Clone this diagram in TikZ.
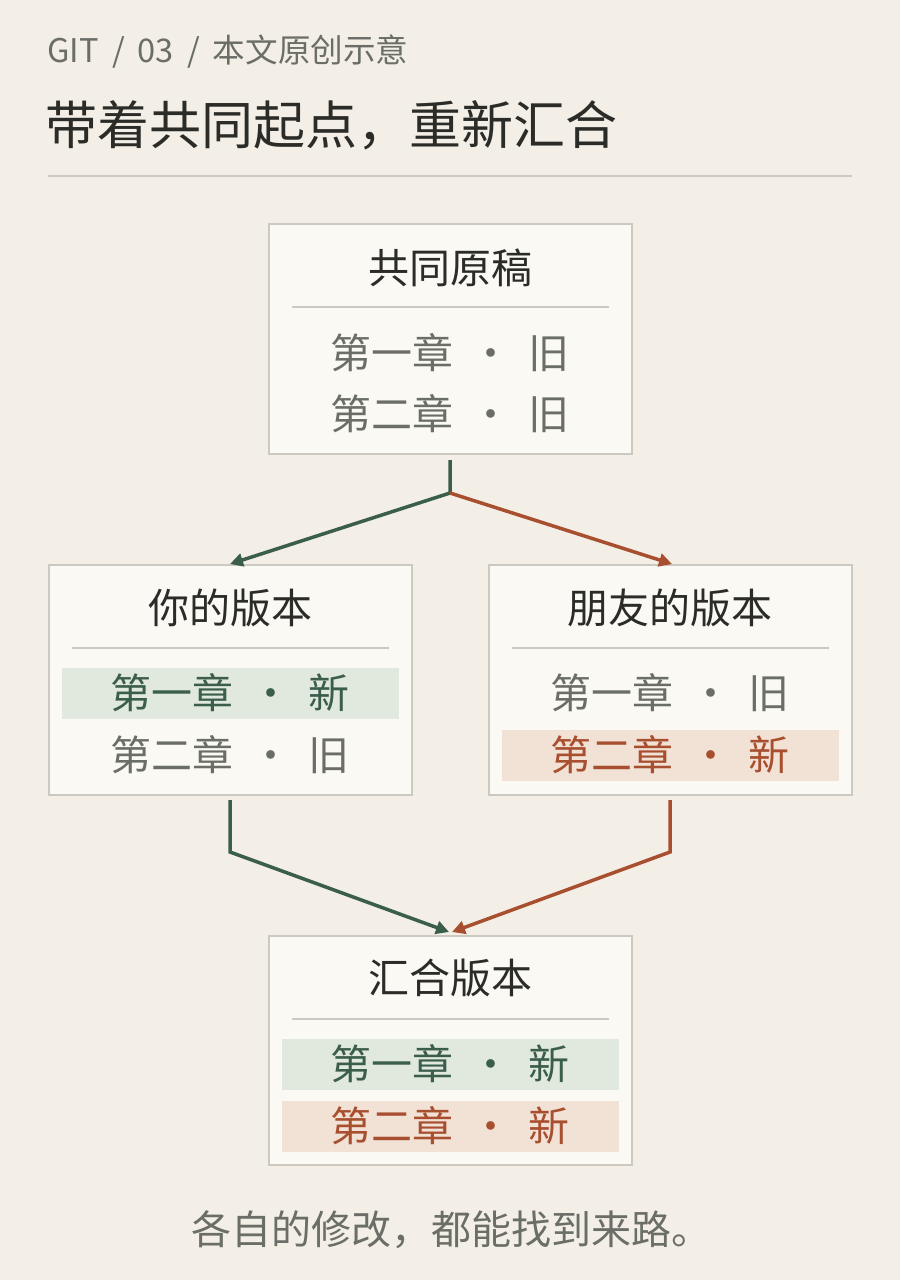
\documentclass[tikz,border=0pt]{standalone}
\usepackage{fontspec}
\setmainfont{Noto Sans CJK SC}
\usetikzlibrary{arrows.meta}
\definecolor{bg}{HTML}{F3EFE6}
\definecolor{boxf}{HTML}{FAF9F4}
\definecolor{boxd}{HTML}{CCCAC0}
\definecolor{ink}{HTML}{2B2B28}
\definecolor{gry}{HTML}{6B6E66}
\definecolor{grn}{HTML}{3B5E4B}
\definecolor{grnf}{HTML}{E1E9DE}
\definecolor{org}{HTML}{A84F2F}
\definecolor{orgf}{HTML}{F2E1D5}
\newcommand{\rowtxt}[2]{#1\hspace{0.42em}·\hspace{0.42em}#2}
\begin{document}
\begin{tikzpicture}[x=1pt,y=-1pt,
  box/.style={draw=boxd,fill=boxf,line width=1.8pt},
  ttl/.style={font=\fontsize{41}{46}\selectfont,text=ink,anchor=center},
  row/.style={font=\fontsize{41}{46}\selectfont,anchor=center},
  sep/.style={draw=boxd,line width=1.6pt},
  garr/.style={draw=grn,line width=3.5pt,-{Triangle[length=13pt,width=13pt]}},
  oarr/.style={draw=org,line width=3.5pt,-{Triangle[length=13pt,width=13pt]}}]
\fill[bg] (0,0) rectangle (900,1280);
\useasboundingbox (0,0) rectangle (900,1280);
\node[anchor=west,text=gry,font=\fontsize{32.6}{36}\selectfont] (hdr) at (44,52) {GIT\hspace{0.4em}/\hspace{0.4em}03\hspace{0.4em}/\hspace{0.4em}本文原创示意};
\node[anchor=west,text=ink,font=\fontsize{52}{58}\selectfont] (title) at (42,125) {带着共同起点，重新汇合};
\draw[sep] (48,176) -- (852,176);
% top box
\path[box] (269,224) rectangle (632,454);
\node[ttl] (t1) at (450,268) {共同原稿};
\draw[sep] (292,307) -- (609,307);
\node[row,text=gry] (t1a) at (450,353) {\rowtxt{第一章}{旧}};
\node[row,text=gry] (t1b) at (450,414) {\rowtxt{第二章}{旧}};
% left box
\path[box] (49,565) rectangle (412,795);
\node[ttl] (t2) at (230,608) {你的版本};
\draw[sep] (72,648) -- (389,648);
\fill[grnf] (62,668) rectangle (399,719);
\node[row,text=grn] (t2a) at (230,693) {\rowtxt{第一章}{新}};
\node[row,text=gry] (t2b) at (230,755) {\rowtxt{第二章}{旧}};
% right box
\path[box] (489,565) rectangle (852,795);
\node[ttl] (t3) at (670,608) {朋友的版本};
\draw[sep] (512,648) -- (829,648);
\node[row,text=gry] (t3a) at (670,693) {\rowtxt{第一章}{旧}};
\fill[orgf] (502,730) rectangle (839,781);
\node[row,text=org] (t3b) at (670,755) {\rowtxt{第二章}{新}};
% bottom box
\path[box] (269,936) rectangle (632,1165);
\node[ttl] (t4) at (450,978) {汇合版本};
\draw[sep] (292,1019) -- (609,1019);
\fill[grnf] (282,1039) rectangle (619,1090);
\node[row,text=grn] (t4a) at (450,1064) {\rowtxt{第一章}{新}};
\fill[orgf] (282,1101) rectangle (619,1152);
\node[row,text=org] (t4b) at (450,1126) {\rowtxt{第二章}{新}};
% connectors
\coordinate (s1) at (450,460);
\coordinate (j1) at (450,493);
\coordinate (e2) at (230,564);
\coordinate (e3) at (672,564);
\draw[garr] (s1) -- (j1) -- (e2);
\draw[oarr] (j1) -- (e3);
\coordinate (s2) at (230,800);
\coordinate (k2) at (230,852);
\coordinate (s3) at (670,800);
\coordinate (k3) at (670,852);
\coordinate (e4g) at (449,932);
\coordinate (e4o) at (452,932);
\draw[garr] (s2) -- (k2) -- (e4g);
\draw[oarr] (s3) -- (k3) -- (e4o);
\node[text=gry,font=\fontsize{40}{44}\selectfont] (foot) at (451,1230) {各自的修改，都能找到来路。};
\end{tikzpicture}
\end{document}
